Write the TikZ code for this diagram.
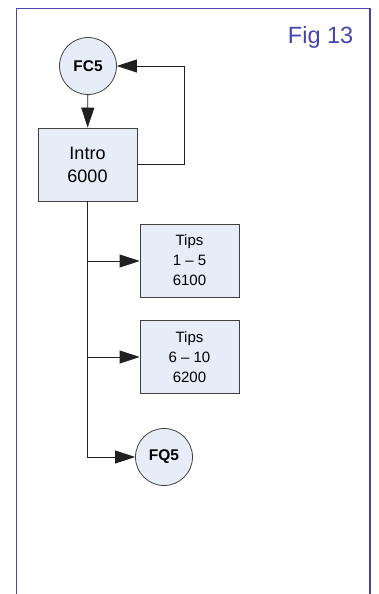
\documentclass[tikz,border=0pt]{standalone}
\usepackage{fontspec}
\setmainfont{Liberation Sans}
\usetikzlibrary{arrows.meta}
\definecolor{framecol}{HTML}{4646AE}
\definecolor{boxfill}{HTML}{E7EDF8}
\definecolor{boxline}{HTML}{404040}
\definecolor{wire}{HTML}{202020}
\begin{document}
\begin{tikzpicture}[x=1pt,y=-1pt,
  proc/.style={draw=boxline,fill=boxfill,line width=0.8pt,minimum width=99pt,minimum height=73pt,inner sep=0pt,align=center},
  conn/.style={draw=boxline,fill=boxfill,line width=0.8pt,circle,minimum size=57pt,inner sep=0pt,font=\fontsize{15.5}{17}\selectfont\bfseries},
  flow/.style={draw=wire,line width=0.8pt,-{Triangle[length=20pt,width=13pt]}},
  wireline/.style={draw=wire,line width=0.8pt}]
\useasboundingbox (0,0) rectangle (378,594);
\clip (0,0) rectangle (378,594);
\fill[white] (0,0) rectangle (378,594);

% open frame running off the bottom of the page
\draw[framecol,line width=1.8pt] (16.5,610) -- (16.5,8.5) -- (370,8.5) -- (370,610);
\node[anchor=base east,text=framecol,font=\fontsize{23.5}{26}\selectfont,inner sep=0pt] (fig) at (353.5,44) {Fig 13};

% nodes
\node[conn] (fc5) at (88,66) {FC5};
\node[proc,font=\fontsize{18}{23}\selectfont] (intro) at (87.5,164.5) {Intro\\6000};
\node[proc,font=\fontsize{15}{20}\selectfont] (tipsA) at (189.5,260.5) {Tips\\1 -- 5\\6100};
\node[proc,font=\fontsize{15}{20}\selectfont] (tipsB) at (189.5,357) {Tips\\6 -- 10\\6200};
\node[conn] (fq5) at (164,457) {FQ5};

% trunk junctions
\coordinate (jA) at (87,261);
\coordinate (jB) at (87,357);
\coordinate (jC) at (87,457);

% connectors
\draw[flow] (fc5) -- (intro);
\draw[flow] (intro.east |- 0,164) -| (184,66) -- (fc5.east);
\draw[wireline] (intro.south -| jA) -- (jC);
\draw[flow] (jA) -- (tipsA.west |- jA);
\draw[flow] (jB) -- (tipsB.west |- jB);
\draw[flow] (jC) -- (fq5.west);
\end{tikzpicture}
\end{document}
